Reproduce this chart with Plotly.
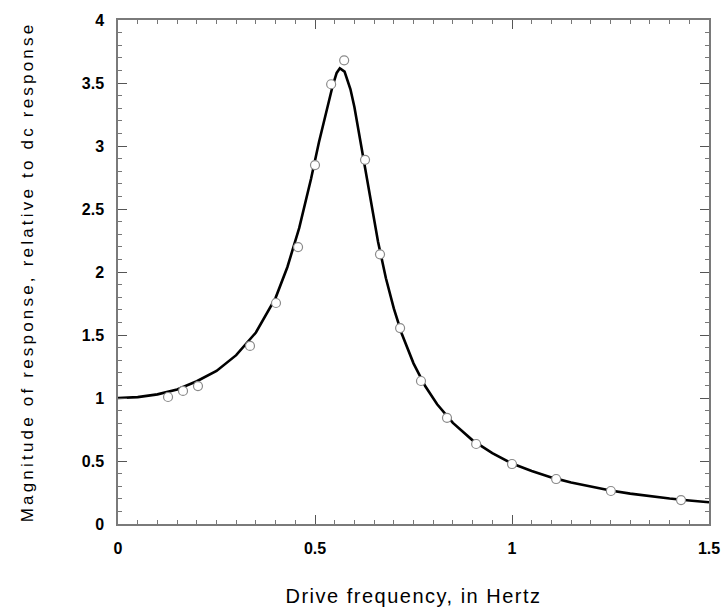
import plotly.graph_objects as go

# Measured data points (drive frequency in Hz, relative magnitude)
data_freq = [0.127, 0.165, 0.203, 0.335, 0.401, 0.457, 0.500, 0.541, 0.574,
             0.627, 0.665, 0.716, 0.769, 0.835, 0.909, 1.000, 1.112, 1.251, 1.429]
data_mag = [1.008, 1.056, 1.095, 1.413, 1.754, 2.198, 2.849, 3.490, 3.680,
            2.890, 2.140, 1.555, 1.135, 0.843, 0.635, 0.476, 0.357, 0.262, 0.190]

# Fitted curve
curve_freq = [0.00, 0.05, 0.10, 0.15, 0.20, 0.25, 0.30, 0.35, 0.40, 0.43,
              0.46, 0.49, 0.51, 0.53, 0.545, 0.555, 0.563, 0.575, 0.59, 0.60,
              0.62, 0.64, 0.66, 0.68, 0.70, 0.72, 0.75, 0.78, 0.81, 0.85,
              0.90, 0.95, 1.00, 1.05, 1.10, 1.15, 1.20, 1.25, 1.30, 1.35,
              1.40, 1.45, 1.50]
curve_mag = [1.000, 1.007, 1.029, 1.068, 1.133, 1.215, 1.340, 1.520, 1.795, 2.040,
             2.350, 2.740, 3.030, 3.300, 3.480, 3.580, 3.617, 3.590, 3.450, 3.310,
             2.950, 2.580, 2.240, 1.950, 1.711, 1.512, 1.275, 1.093, 0.950, 0.802,
             0.664, 0.562, 0.480, 0.421, 0.370, 0.330, 0.295, 0.266, 0.241, 0.220,
             0.202, 0.186, 0.172]

x_ticks = [0, 0.5, 1, 1.5]
x_tick_text = ["0", "0.5", "1", "1.5"]
y_ticks = [0, 0.5, 1, 1.5, 2, 2.5, 3, 3.5, 4]
y_tick_text = ["0", "0.5", "1", "1.5", "2", "2.5", "3", "3.5", "4"]

x_title = "Drive frequency, in Hertz"
y_title = "Magnitude of response, relative to dc response"

FONT = "Liberation Sans, Arial, sans-serif"

fig = go.Figure()
fig.add_trace(go.Scatter(x=curve_freq, y=curve_mag, mode="lines",
                         line=dict(color="black", width=2.6), showlegend=False,
                         hoverinfo="skip"))
fig.add_trace(go.Scatter(x=data_freq, y=data_mag, mode="markers",
                         marker=dict(symbol="circle", size=9, color="white",
                                     line=dict(color="#8a8a8a", width=1.2)),
                         showlegend=False))

axis_common = dict(
    showline=True, linecolor="#7a7a7a", linewidth=1.5, mirror="ticks",
    ticks="inside", ticklen=9, tickwidth=1.2, tickcolor="#555555",
    showgrid=False, zeroline=False, automargin=False,
    tickfont=dict(family=FONT, size=16, color="black", weight="bold"),
)

fig.update_xaxes(range=[0, 1.5], tickvals=x_ticks, ticktext=x_tick_text,
                 ticklabelstandoff=9,
                 minor=dict(ticks="inside", dtick=0.05, ticklen=4, tickcolor="#777777", tickwidth=1.2),
                 title=dict(text='<span style="letter-spacing:1.5px">' + x_title + '</span>',
                            standoff=33,
                            font=dict(family=FONT, size=20, color="black")),
                 **axis_common)
fig.update_yaxes(range=[0, 4], tickvals=y_ticks, ticktext=y_tick_text,
                 ticklabelstandoff=9,
                 minor=dict(ticks="inside", dtick=0.1, ticklen=4, tickcolor="#777777", tickwidth=1.2),
                 title=dict(text='<span style="letter-spacing:3.2px">' + y_title + '</span>',
                            standoff=44,
                            font=dict(family=FONT, size=17, color="black")),
                 **axis_common)

fig.update_layout(
    width=722, height=609,
    margin=dict(l=118, r=13, t=20, b=85),
    plot_bgcolor="white", paper_bgcolor="white",
)

# Remove the default page margin so the figure fills the window exactly.
fig.write_html(
    "out.html",
    config={"displayModeBar": False},
    post_script="document.body.style.margin='0';document.body.style.overflow='hidden';",
)
